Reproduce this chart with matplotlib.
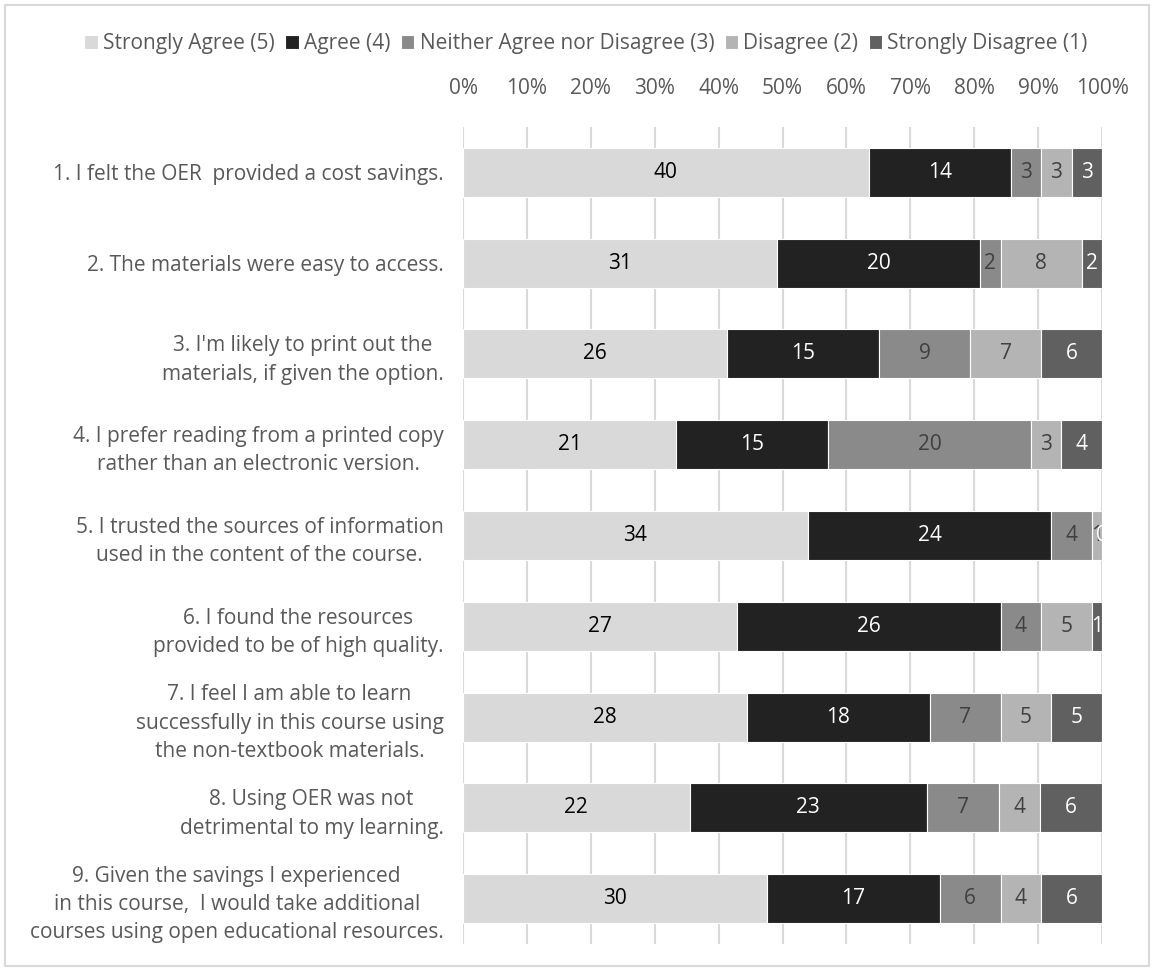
import matplotlib
matplotlib.use("Agg")
import matplotlib.pyplot as plt
import numpy as np
from matplotlib.patches import Rectangle

plt.rcParams['font.family'] = ['Open Sans', 'DejaVu Sans']

questions = [
    "1. I felt the OER  provided a cost savings.",
    "2. The materials were easy to access.",
    "3. I'm likely to print out the\nmaterials, if given the option.",
    "4. I prefer reading from a printed copy\nrather than an electronic version.",
    "5. I trusted the sources of information\nused in the content of the course.",
    "6. I found the resources\nprovided to be of high quality.",
    "7. I feel I am able to learn\nsuccessfully in this course using\nthe non-textbook materials.",
    "8. Using OER was not\ndetrimental to my learning.",
    "9. Given the savings I experienced\nin this course,  I would take additional\ncourses using open educational resources.",
]
series_names = ["Strongly Agree (5)", "Agree (4)", "Neither Agree nor Disagree (3)",
                "Disagree (2)", "Strongly Disagree (1)"]
strongly_agree = [40, 31, 26, 21, 34, 27, 28, 22, 30]
agree = [14, 20, 15, 15, 24, 26, 18, 23, 17]
neither = [3, 2, 9, 20, 4, 4, 7, 7, 6]
disagree = [3, 8, 7, 3, 1, 5, 5, 4, 4]
strongly_disagree = [3, 2, 6, 4, 0, 1, 5, 6, 6]
tick_labels = [f"{v}%" for v in range(0, 101, 10)]

colors = ["#D9D9D9", "#222222", "#8A8A8A", "#B4B4B4", "#606060"]
text_colors = ["#000000", "#FFFFFF", "#404040", "#404040", "#FFFFFF"]

data = np.array([strongly_agree, agree, neither, disagree, strongly_disagree], dtype=float)
totals = data.sum(axis=0)
pct = data / totals * 100

FS = 15
fig = plt.figure(figsize=(11.53, 9.71), dpi=100)
ax = fig.add_axes([463/1153, 1 - 944/971, (1102-463)/1153, (944-127)/971])

y = np.arange(len(questions))
left = np.zeros(len(questions))
for i, name in enumerate(series_names):
    ax.barh(y, pct[i], left=left, height=0.54, color=colors[i], label=name,
            edgecolor='white', linewidth=0.8, zorder=3)
    for j in range(len(questions)):
        if data[i, j] > 0 or i == 4:
            cx = left[j] + pct[i, j] / 2
            ax.text(cx, y[j], f"{int(data[i, j])}", ha='center', va='center',
                    fontsize=FS, color=text_colors[i], zorder=4)
    left += pct[i]

ax.set_xlim(0, 100)
ax.set_ylim(len(questions) - 0.5, -0.5)
ax.set_xticks(np.arange(0, 101, 10))
ax.set_xticklabels(tick_labels, fontsize=FS, color='#595959')
ax.xaxis.tick_top()
ax.tick_params(axis='x', length=0, pad=20)
ax.set_yticks(y)
ax.set_yticklabels(questions, fontsize=FS, color='#595959', ha='right')
for lab in ax.get_yticklabels():
    lab.set_multialignment('center')
    lab.set_linespacing(1.45)
ax.tick_params(axis='y', length=0, pad=14)
ax.grid(axis='x', color='#D9D9D9', linewidth=1.5, zorder=0)
for s in ax.spines.values():
    s.set_visible(False)

handles, labels = ax.get_legend_handles_labels()
fig.legend(handles, labels, loc='center', bbox_to_anchor=(586/1153, 1 - 44/971), ncol=5,
           frameon=False, fontsize=FS, handlelength=0.65, handleheight=0.65,
           handletextpad=0.25, columnspacing=0.5, labelcolor='#595959',
           borderpad=0, borderaxespad=0)

fig.add_artist(Rectangle((5/1153, 5/971), 1144/1153, 961/971, transform=fig.transFigure,
                         fill=False, edgecolor='#D9D9D9', linewidth=1.5))

fig.savefig("out.png", dpi=100)
